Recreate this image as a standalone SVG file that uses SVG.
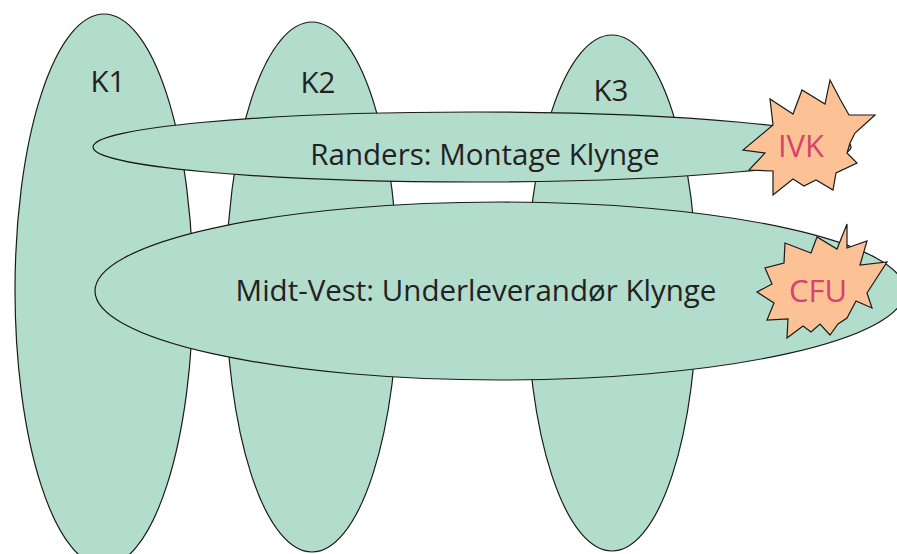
<svg xmlns="http://www.w3.org/2000/svg" width="897" height="554" viewBox="0 0 897 554">
<style>
.cl{fill:#b2dccc;stroke:#1a1a1a;stroke-width:1.2}
.burst{fill:#fcc295;stroke:#1a1a1a;stroke-width:1.2;stroke-linejoin:miter}
.lbl{font-family:"Open Sans","Noto Sans",sans-serif;font-size:29.5px;fill:#222;text-anchor:middle}
.blbl{font-family:"Open Sans","Noto Sans",sans-serif;font-size:31px;fill:#d6436c;text-anchor:middle}
</style>
<rect width="897" height="554" fill="#fff"/>
<g id="K1"><ellipse class="cl" cx="104" cy="290" rx="89" ry="276"/><text class="lbl" x="108" y="92">K1</text></g>
<g id="K2"><ellipse class="cl" cx="312" cy="287" rx="86" ry="265"/><text class="lbl" x="318" y="93">K2</text></g>
<g id="K3"><ellipse class="cl" cx="612" cy="293" rx="85" ry="258"/><text class="lbl" x="611" y="101">K3</text></g>
<g id="randers"><ellipse class="cl" cx="472" cy="147" rx="379" ry="35"/><text class="lbl" x="485" y="165">Randers: Montage Klynge</text></g>
<g id="midtvest"><ellipse class="cl" cx="500" cy="291" rx="405" ry="89"/><text class="lbl" x="476" y="301">Midt-Vest: Underleverandør Klynge</text></g>
<g id="IVK"><polygon class="burst" points="830,80 825,104 802,90 793,114 770,99 773,125 743,150 765,153 749,170 773,171 773,195 793,179 804,186 816,180 833,190 836,173 857,163 847,153 850,143 855,133 875,115 849,115 840,99"/><text class="blbl" x="801" y="157">IVK</text></g>
<g id="CFU"><polygon class="burst" points="847,224 837,249 817,237 811,253 785,243 784,263 765,268 772,284 757,292 774,303 767,320 788,319 787,338 803,326 811,332 820,324 830,335 838,324 847,318 856,301 872,308 867,293 887,262 860,265 867,241 847,248"/><text class="blbl" x="818" y="302">CFU</text></g>
<g id="connectors"/>
</svg>
